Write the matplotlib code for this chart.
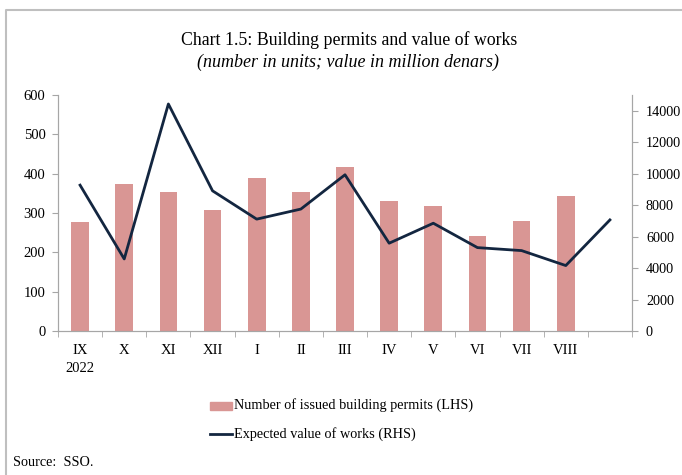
import matplotlib.pyplot as plt
import numpy as np
from matplotlib.patches import Rectangle
from matplotlib.lines import Line2D

plt.rcParams['font.family'] = ['Liberation Serif', 'DejaVu Serif']

# data
months = ['IX\n2022', 'X', 'XI', 'XII', 'I', 'II', 'III', 'IV', 'V', 'VI', 'VII', 'VIII', '']
permits = [276, 373, 353, 308, 388, 353, 416, 330, 317, 242, 280, 344]
works = [9270, 4580, 14430, 8910, 7110, 7750, 9930, 5580, 6850, 5300, 5110, 4160, 7060]

bar_color = '#d99694'
line_color = '#132640'
spine_color = '#a6a6a6'

fig = plt.figure(figsize=(6.82, 4.75), dpi=100)
ax = fig.add_axes([58 / 682, 1 - 331 / 475, (632 - 58) / 682, (331 - 95) / 475])
ax2 = ax.twinx()

x = np.arange(len(months))
ax.bar(x[:len(permits)], permits, width=0.4, color=bar_color, zorder=2)
ax2.plot(x, works, color=line_color, lw=2, zorder=3)

ax.set_xlim(-0.5, len(months) - 0.5)
ax.set_ylim(0, 600)
ax2.set_ylim(0, 15000)
ax.set_yticks(range(0, 601, 100))
ax2.set_yticks(range(0, 14001, 2000))

ax.set_xticks(x)
ax.set_xticklabels(months, fontsize=10.5, linespacing=1.55)
ax.set_xticks(np.arange(-0.5, len(months), 1), minor=True)
ax.tick_params(axis='x', which='major', length=0, pad=9)
ax.tick_params(axis='x', which='minor', length=4, color=spine_color, direction='out')
ax.tick_params(axis='y', length=4, color=spine_color, labelsize=10.5, pad=5)
ax2.tick_params(axis='y', length=4, color=spine_color, labelsize=10.2, pad=6)

for a in (ax, ax2):
    a.spines['top'].set_visible(False)
    for s in ('left', 'right', 'bottom'):
        a.spines[s].set_color(spine_color)
ax.patch.set_visible(False)
ax2.patch.set_visible(False)
# keep bars below line
ax.set_zorder(1)
ax2.set_zorder(2)

fig.text(349 / 682, 1 - 40 / 475, 'Chart 1.5: Building permits and value of works',
         ha='center', va='center', fontsize=12.8)
fig.text(348 / 682, 1 - 62 / 475, '(number in units; value in million denars)',
         ha='center', va='center', fontsize=13, style='italic')

# legend, drawn by hand as in the report
fig.patches.append(Rectangle((210 / 682, 1 - 409.5 / 475), 22 / 682, 7.5 / 475,
                             transform=fig.transFigure, color=bar_color))
fig.text(234 / 682, 1 - 405.5 / 475, 'Number of issued building permits (LHS)',
         va='center', fontsize=10.3)
fig.lines.append(Line2D([210 / 682, 232 / 682], [1 - 434 / 475, 1 - 434 / 475],
                        transform=fig.transFigure, color=line_color, lw=2))
fig.text(234 / 682, 1 - 434 / 475, 'Expected value of works (RHS)',
         va='center', fontsize=10.3)

fig.text(13 / 682, 1 - 462 / 475, 'Source:  SSO.', va='center', fontsize=10.3)

# frame around the chart
fig.lines.append(Line2D([6 / 682, 6 / 682, 1], [0, 1 - 10 / 475, 1 - 10 / 475],
                        transform=fig.transFigure, color='#bfbfbf', lw=1.5))

fig.savefig('out.png', dpi=100)
